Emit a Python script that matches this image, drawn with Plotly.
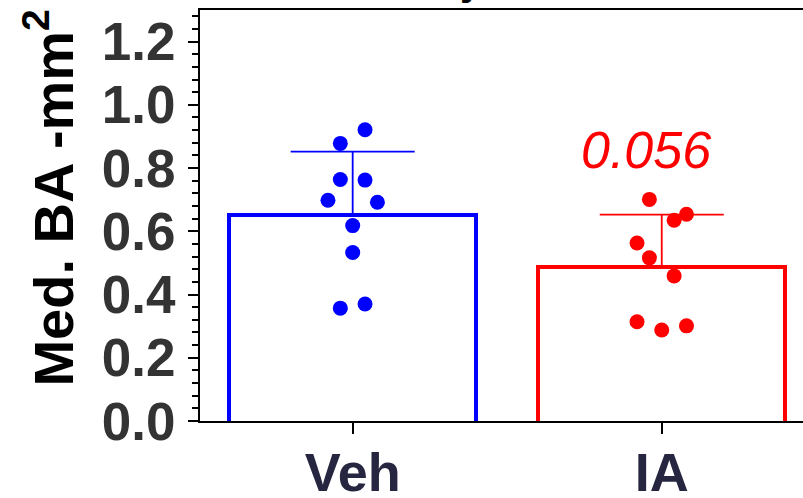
import plotly.graph_objects as go

# ---- data ----
categories = ["Veh", "IA"]
bar_means = [0.652, 0.486]
bar_sds = [0.200, 0.167]

veh_values = [0.921, 0.878, 0.764, 0.762, 0.698, 0.692, 0.618, 0.533, 0.357, 0.370]
veh_jitter = [0.04, -0.04, -0.04, 0.04, -0.08, 0.08, 0.0, 0.0, -0.04, 0.04]

ia_values = [0.701, 0.654, 0.635, 0.563, 0.516, 0.459, 0.314, 0.288, 0.301]
ia_jitter = [-0.04, 0.08, 0.04, -0.08, -0.04, 0.04, -0.08, 0.0, 0.08]

p_value_text = "0.056"
y_title = "Med. BA -mm<sup>2</sup>"

colors = ["#0000FF", "#FF0000"]
FONT = "Liberation Sans, Arial, Helvetica, sans-serif"
BASE = -0.03  # bars start just below the axis so the bottom outline is hidden

fig = go.Figure()

# bars with upward-only error bars
for i, cat in enumerate(categories):
    fig.add_trace(go.Bar(
        x=[i], y=[bar_means[i] - BASE], base=[BASE], width=0.8,
        marker=dict(color="white", line=dict(color=colors[i], width=4)),
        error_y=dict(type="data", symmetric=False, array=[bar_sds[i]], arrayminus=[0],
                     color=colors[i], thickness=1.8, width=62),
        showlegend=False, name=cat,
    ))

# individual points
groups = [(veh_values, veh_jitter), (ia_values, ia_jitter)]
for i, (vals, jit) in enumerate(groups):
    fig.add_trace(go.Scatter(
        x=[i + j for j in jit], y=vals, mode="markers",
        marker=dict(color=colors[i], size=15, line=dict(width=0)),
        showlegend=False, name=categories[i], cliponaxis=False,
    ))

# p-value annotation
fig.add_annotation(
    x=1, y=0.857, xref="x", yref="y", text=p_value_text, showarrow=False,
    xshift=-16, yanchor="middle",
    font=dict(family=FONT, size=52, color="#FF0000", style="italic"),
)

# partially visible title (only the descender shows)
fig.add_annotation(
    x=0.451, y=1, xref="paper", yref="paper", text="<b>y</b>", showarrow=False,
    yanchor="bottom", yshift=5,
    font=dict(family=FONT, size=40, color="black"),
)

# y-axis title as a rotated annotation
fig.add_annotation(
    x=-0.2488, y=0.5435, xref="paper", yref="paper", text=y_title, showarrow=False,
    textangle=-90, xanchor="center", yanchor="middle",
    font=dict(family=FONT, size=56, color="black", weight="bold"),
)

fig.update_layout(
    width=803, height=498,
    margin=dict(l=200, r=0, t=10, b=77, pad=0),
    plot_bgcolor="white", paper_bgcolor="white",
    bargap=0,
    xaxis=dict(
        range=[-0.494, 1.457], tickmode="array", tickvals=[0, 1], ticktext=categories,
        showgrid=False, zeroline=False, automargin=False,
        showline=True, linecolor="black", linewidth=2, mirror=True,
        ticks="outside", ticklen=11, tickwidth=2, tickcolor="black",
        ticklabelstandoff=-8,
        tickfont=dict(family=FONT, size=54, color="#262640", weight="bold"),
    ),
    yaxis=dict(
        range=[0, 1.3], tickmode="linear", tick0=0, dtick=0.2, tickformat=".1f",
        showgrid=False, zeroline=False, automargin=False,
        showline=True, linecolor="black", linewidth=2,
        ticks="outside", ticklen=10, tickwidth=2, tickcolor="black",
        ticklabelstandoff=2,
        tickfont=dict(family=FONT, size=53, color="#333333", weight="bold"),
        minor=dict(ticks="outside", ticklen=6, tickwidth=2, tickcolor="black", dtick=0.04, tick0=0),
    ),
)

fig.write_html("out.html", post_script="document.body.style.margin='0';",
               config={"displayModeBar": False})
